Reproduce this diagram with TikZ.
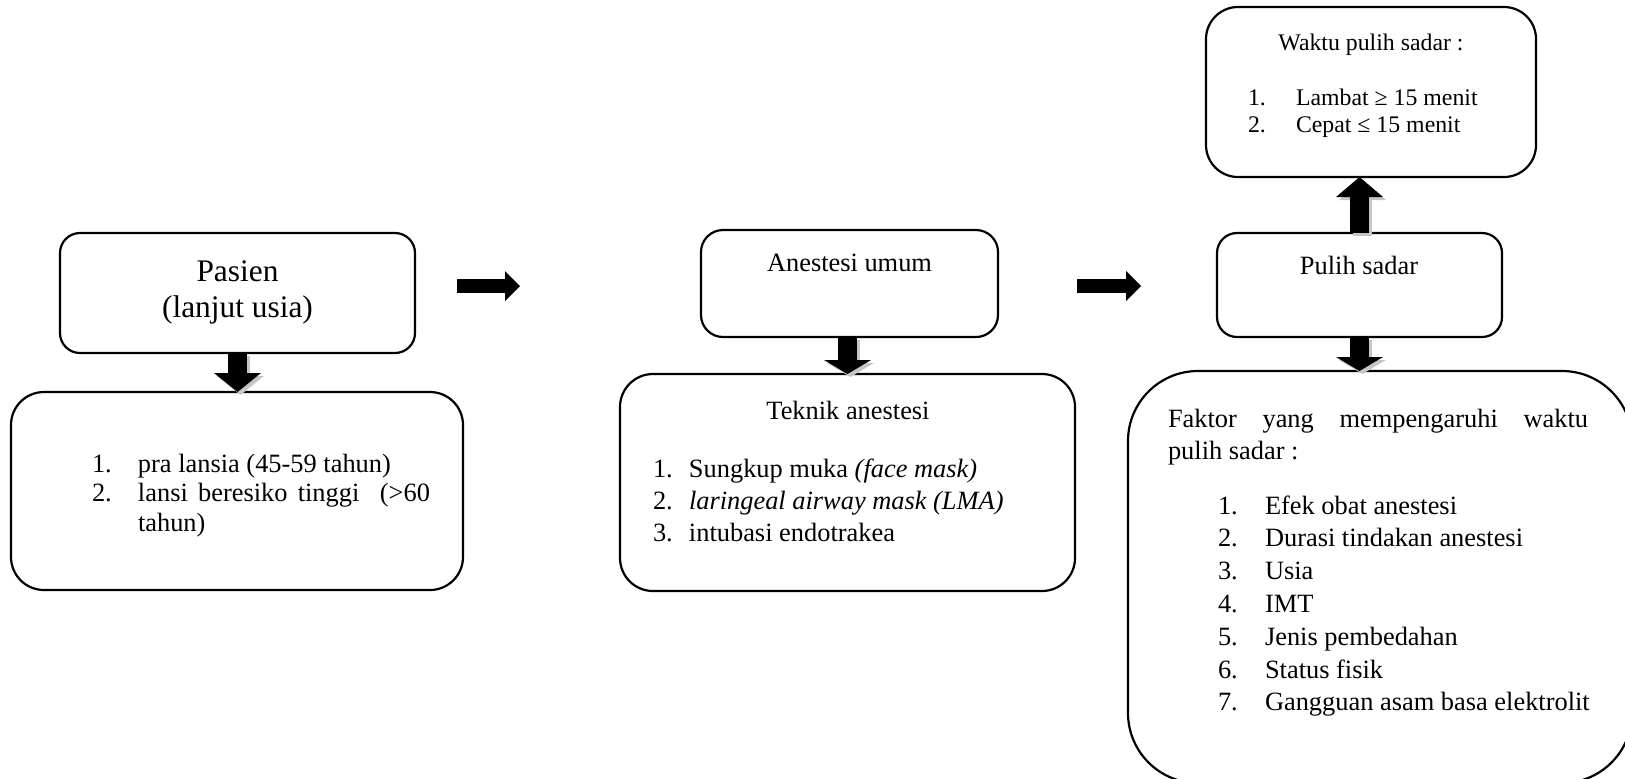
\documentclass[tikz,border=0pt]{standalone}
\usepackage{fontspec}
\setmainfont{Liberation Serif}
\usetikzlibrary{arrows.meta}
\begin{document}
\begin{tikzpicture}[x=0.5pt,y=-0.5pt,
  roundbox/.style={draw, line width=1.1pt, inner sep=0pt, outer sep=0pt},
  txt/.style={inner sep=0pt, outer sep=0pt, font=\fontsize{13.2}{16}\selectfont},
  bigtxt/.style={inner sep=0pt, outer sep=0pt, font=\fontsize{15.7}{18}\selectfont},
  smalltxt/.style={inner sep=0pt, outer sep=0pt, font=\fontsize{11.9}{13.5}\selectfont},
  harrow/.style={line width=7pt, -{Triangle[length=7.5pt,width=15pt,line width=0pt]}},
  varrow/.style={line width=9.5pt, -{Triangle[length=#1,width=23.5pt,line width=0pt]}},
  varrow/.default=8pt,
  arrowshadow/.style={color=gray!45, transform canvas={xshift=1.5pt,yshift=-1.5pt}}
]
\useasboundingbox (0,0) rectangle (1625,778);
\clip (0,0) rectangle (1625,778);

% boxes
\node[roundbox, rounded corners=10pt, minimum width=177.5pt, minimum height=60pt] (pasien) at (237.5,293) {};
\node[roundbox, rounded corners=16.5pt, minimum width=226pt, minimum height=99pt] (usia) at (237,491) {};
\node[roundbox, rounded corners=11pt, minimum width=148.5pt, minimum height=53.5pt] (anest) at (849.5,283.5) {};
\node[roundbox, rounded corners=16.5pt, minimum width=227.5pt, minimum height=108.5pt] (teknik) at (847.5,482.5) {};
\node[roundbox, rounded corners=16pt, minimum width=165pt, minimum height=85pt] (waktu) at (1371,92) {};
\node[roundbox, rounded corners=10pt, minimum width=142.5pt, minimum height=52pt] (pulih) at (1359.5,285) {};
\node[roundbox, rounded corners=35pt, minimum width=252pt, minimum height=206pt] (faktor) at (1380,577) {};

% texts
\node[bigtxt, anchor=base] (pasientxt) at (237.5,281)
  {\begin{tabular}[t]{@{}c@{}}Pasien\\(lanjut usia)\end{tabular}};
\node[txt, font=\fontsize{13.2}{14.75}\selectfont, anchor=base west] (usialist) at (92,472)
  {\begin{tabular}[t]{@{}p{23pt}@{}p{146pt}@{}}1. & pra lansia (45-59 tahun)\\
   2. & lansi beresiko tinggi\ \ (>60\linebreak tahun)\end{tabular}};
\node[txt, anchor=base] (anesttxt) at (849.5,271) {Anestesi umum};
\node[txt, anchor=base] (tekniktxt) at (848,419) {Teknik anestesi};
\node[txt, anchor=base west] (tekniklist) at (653,477)
  {\begin{tabular}[t]{@{}p{18pt}@{}l@{}}1. & Sungkup muka \textit{(face mask)}\\
   2. & \textit{laringeal airway mask (LMA)}\\
   3. & intubasi endotrakea\end{tabular}};
\node[smalltxt, anchor=base] (waktutxt) at (1371,50) {Waktu pulih sadar :};
\node[smalltxt, anchor=base west] (waktulist) at (1248,105)
  {\begin{tabular}[t]{@{}p{24pt}@{}l@{}}1. & Lambat ≥ 15 menit\\
   2. & Cepat ≤ 15 menit\end{tabular}};
\node[txt, anchor=base] (pulihtxt) at (1359,274) {Pulih sadar};
\node[txt, anchor=base west] (faktortxt) at (1168,427)
  {\begin{tabular}[t]{@{}p{210pt}@{}}Faktor yang mempengaruhi waktu\linebreak pulih sadar :\end{tabular}};
\node[txt, font=\fontsize{13.2}{16.4}\selectfont, anchor=base west] (faktorlist) at (1218,514)
  {\begin{tabular}[t]{@{}p{23.5pt}@{}l@{}}1. & Efek obat anestesi\\
   2. & Durasi tindakan anestesi\\
   3. & Usia\\
   4. & IMT\\
   5. & Jenis pembedahan\\
   6. & Status fisik\\
   7. & Gangguan asam basa elektrolit\end{tabular}};

% horizontal arrows
\coordinate (r1a) at (457,286);
\coordinate (r1b) at (520,286);
\coordinate (r2a) at (1077,286);
\coordinate (r2b) at (1141,286);
\draw[harrow] (r1a) -- (r1b);
\draw[harrow] (r2a) -- (r2b);

% vertical arrows: shadows
\draw[varrow=9.5pt, arrowshadow] (pasien.south) -- (pasien.south |- usia.north);
\draw[varrow=7pt, arrowshadow] (teknik.north |- anest.south) -- (teknik.north);
\draw[varrow=10pt, arrowshadow] (pulih.north) -- (pulih.north |- waktu.south);
\draw[varrow=7pt, arrowshadow] (pulih.south) -- (pulih.south |- faktor.north);

% vertical arrows
\draw[varrow=9.5pt] (pasien.south) -- (pasien.south |- usia.north);
\draw[varrow=7pt] (teknik.north |- anest.south) -- (teknik.north);
\draw[varrow=10pt] (pulih.north) -- (pulih.north |- waktu.south);
\draw[varrow=7pt] (pulih.south) -- (pulih.south |- faktor.north);
\end{tikzpicture}
\end{document}
